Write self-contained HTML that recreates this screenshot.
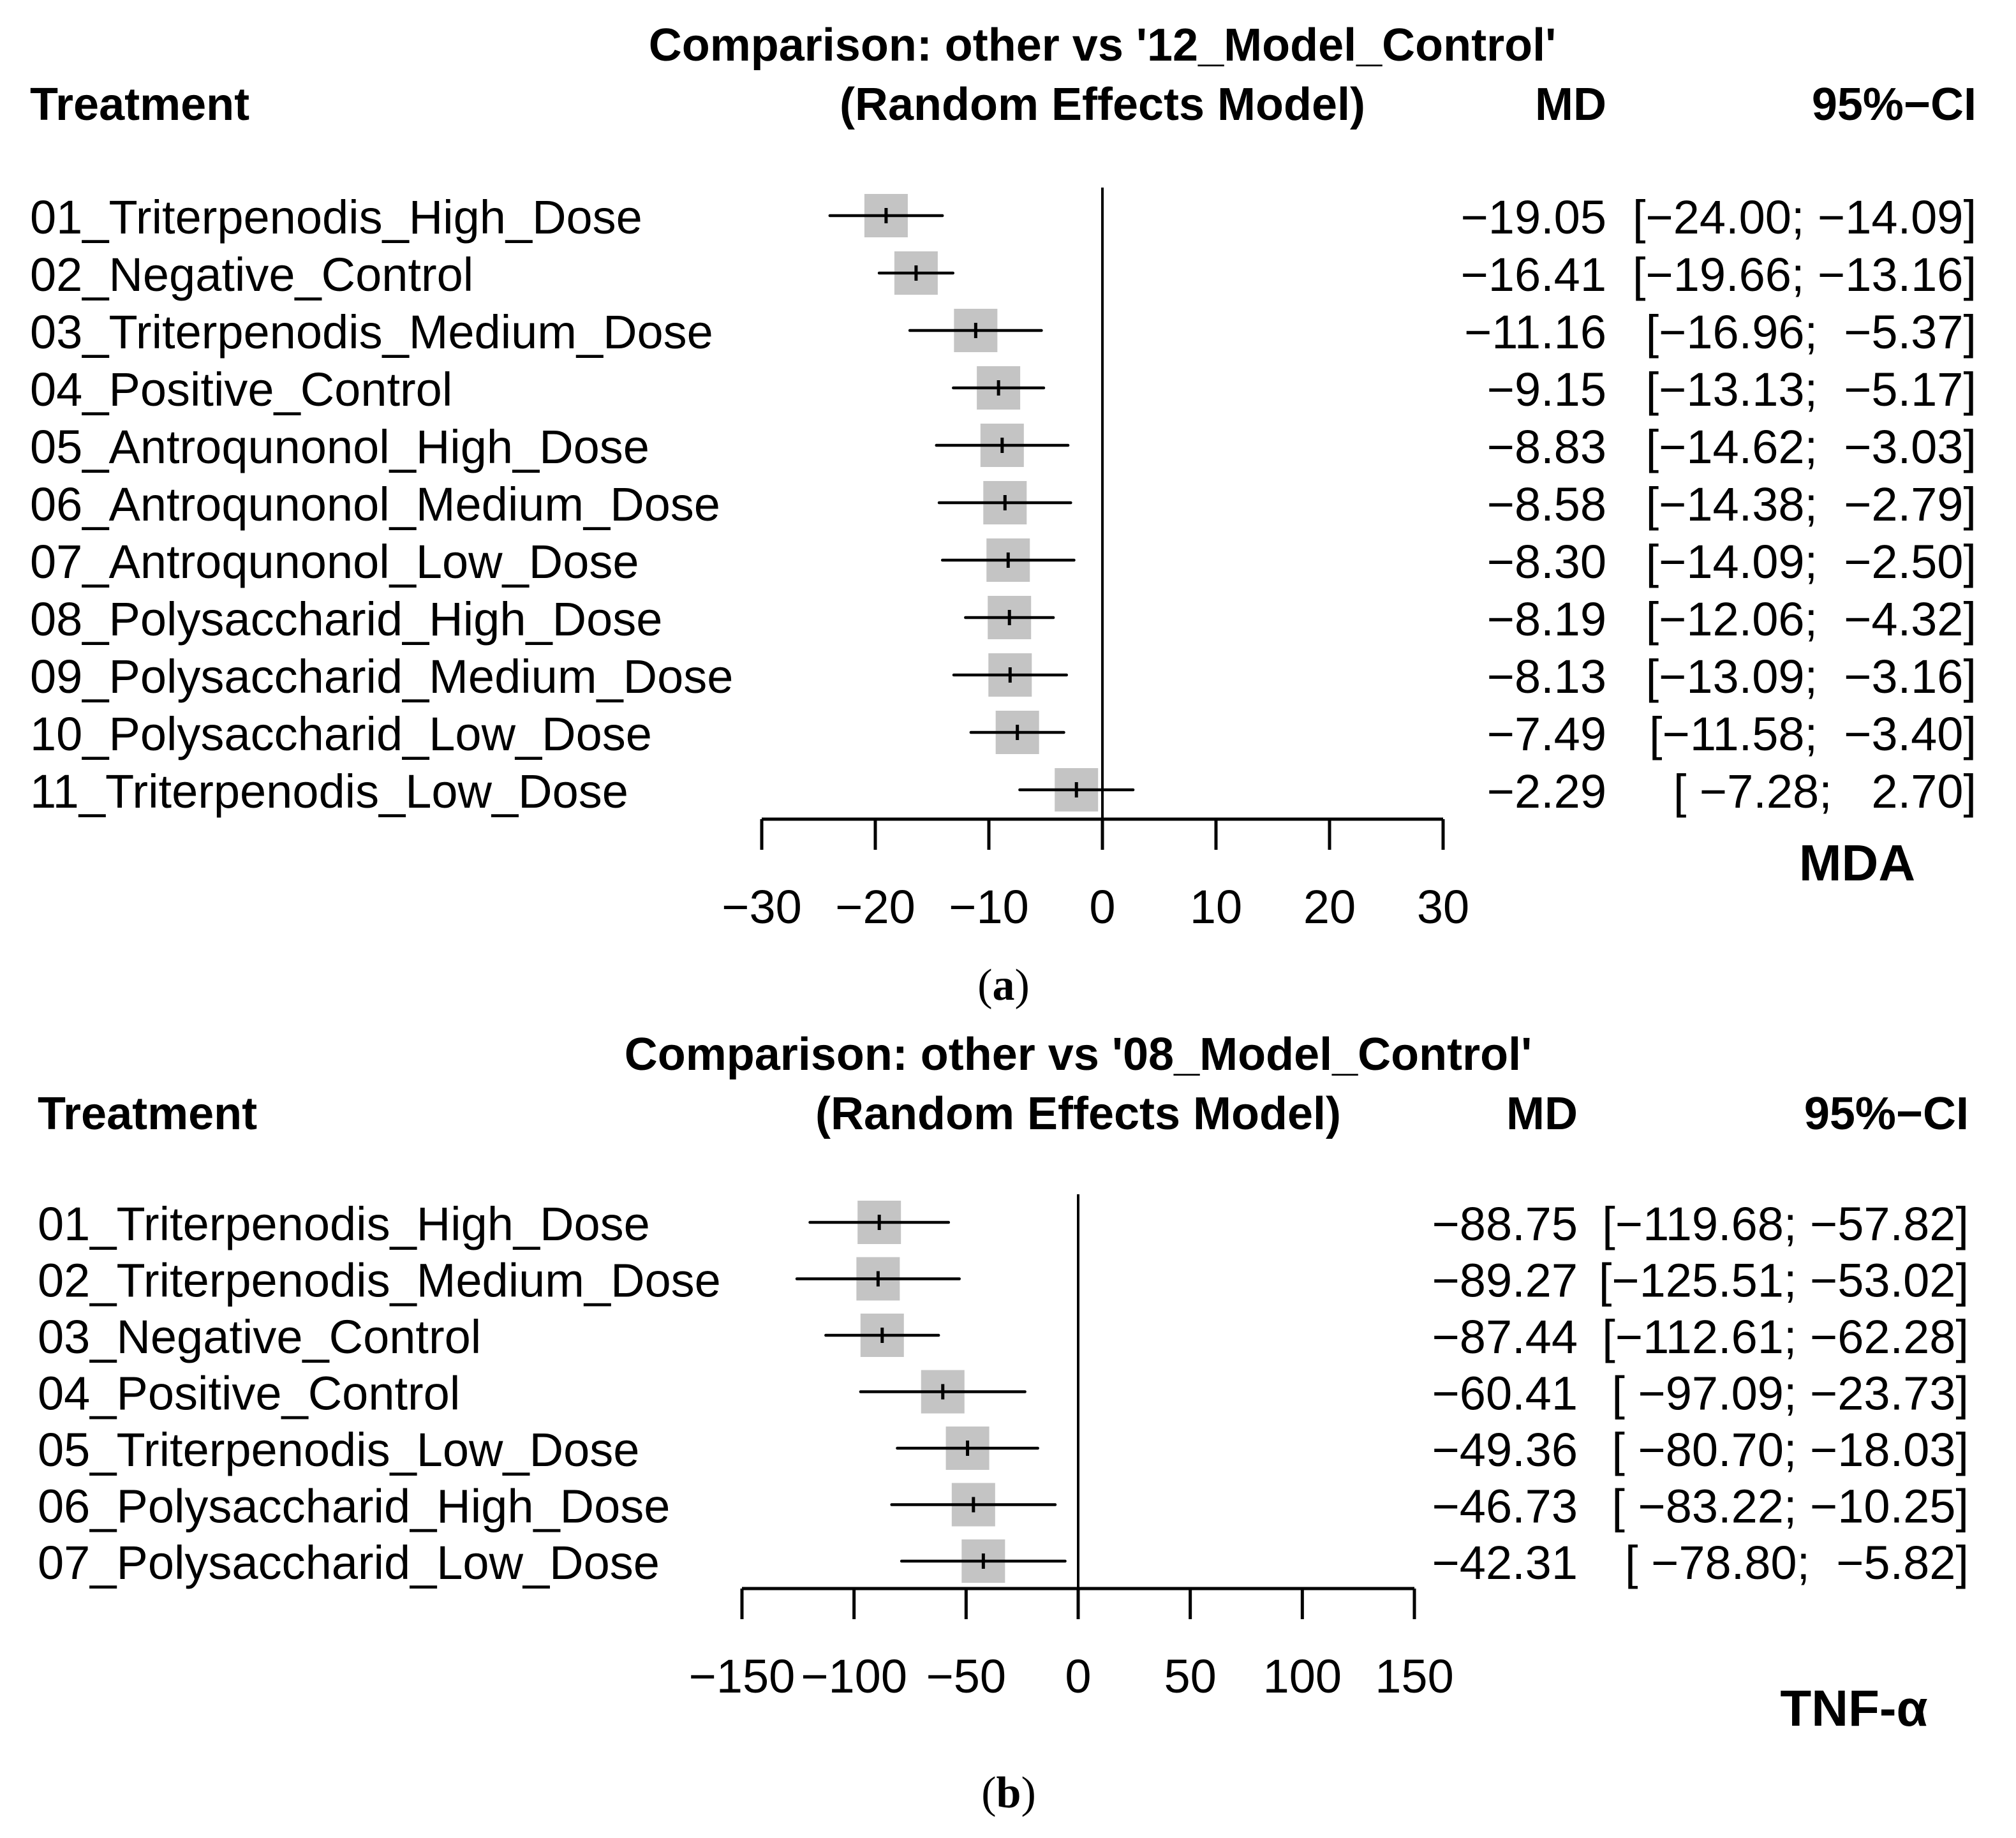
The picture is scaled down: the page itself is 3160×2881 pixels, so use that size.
<!DOCTYPE html>
<html><head><meta charset="utf-8"><style>
html,body{margin:0;padding:0;background:#fff;}
svg text{font-family:"Liberation Sans",Arial,sans-serif;white-space:pre;}
</style></head><body>
<svg id="fig" xmlns="http://www.w3.org/2000/svg" width="3160" height="2876" viewBox="0 0 3160 2876">
<rect x="0" y="0" width="3160" height="2876" fill="#fff"/>
<g id="pa"></g>
<g id="pb"></g>
<text x="1573" y="1567" text-anchor="middle" font-size="70" style="font-family:'Liberation Serif',serif">(<tspan font-weight="bold">a</tspan>)</text>
<text x="1581" y="2833" text-anchor="middle" font-size="70" style="font-family:'Liberation Serif',serif">(<tspan font-weight="bold">b</tspan>)</text>
</svg>
<script>
const aLabels = ["01_Triterpenodis_High_Dose","02_Negative_Control","03_Triterpenodis_Medium_Dose","04_Positive_Control","05_Antroqunonol_High_Dose","06_Antroqunonol_Medium_Dose","07_Antroqunonol_Low_Dose","08_Polysaccharid_High_Dose","09_Polysaccharid_Medium_Dose","10_Polysaccharid_Low_Dose","11_Triterpenodis_Low_Dose"];
const aMD = [-19.05,-16.41,-11.16,-9.15,-8.83,-8.58,-8.30,-8.19,-8.13,-7.49,-2.29];
const aLo = [-24.00,-19.66,-16.96,-13.13,-14.62,-14.38,-14.09,-12.06,-13.09,-11.58,-7.28];
const aHi = [-14.09,-13.16,-5.37,-5.17,-3.03,-2.79,-2.50,-4.32,-3.16,-3.40,2.70];
const aTicks = [-30,-20,-10,0,10,20,30];

const bLabels = ["01_Triterpenodis_High_Dose","02_Triterpenodis_Medium_Dose","03_Negative_Control","04_Positive_Control","05_Triterpenodis_Low_Dose","06_Polysaccharid_High_Dose","07_Polysaccharid_Low_Dose"];
const bMD = [-88.75,-89.27,-87.44,-60.41,-49.36,-46.73,-42.31];
const bLo = [-119.68,-125.51,-112.61,-97.09,-80.70,-83.22,-78.80];
const bHi = [-57.82,-53.02,-62.28,-23.73,-18.03,-10.25,-5.82];
const bTicks = [-150,-100,-50,0,50,100,150];

const NS = "http://www.w3.org/2000/svg";
function mk(parent, tag, attrs, txt){
  const e = document.createElementNS(NS, tag);
  for (const k in attrs) e.setAttribute(k, attrs[k]);
  if (txt !== undefined) e.textContent = txt;
  parent.appendChild(e);
  return e;
}
function fmt(v){ const s = Math.abs(v).toFixed(2); return (v < 0 ? "\u2212" : "") + s; }
function pad(s, w){ while (s.length < w) s = " " + s; return s; }

function panel(g, cfg){
  const sx = v => cfg.x0 + (v - cfg.dmin) / (cfg.dmax - cfg.dmin) * (cfg.x1 - cfg.x0);
  const sy = i => cfg.yTop + i * cfg.step;
  const n = cfg.labels.length;
  const wLo = Math.max(...cfg.lo.map(v => fmt(v).length));
  const wHi = Math.max(...cfg.hi.map(v => fmt(v).length));
  let t;
  t = mk(g, "text", {x: sx(0), y: cfg.titleY, "text-anchor": "middle", "font-size": 72, "font-weight": "bold"}, cfg.title);
  
  
  t = mk(g, "text", {x: sx(0), y: cfg.titleY + 93, "text-anchor": "middle", "font-size": 72, "font-weight": "bold"}, "(Random Effects Model)");
  
  
  t = mk(g, "text", {x: cfg.labX, y: cfg.titleY + 93, "font-size": 72, "font-weight": "bold"}, "Treatment");
  
  
  t = mk(g, "text", {x: cfg.mdX, y: cfg.titleY + 93, "text-anchor": "end", "font-size": 72, "font-weight": "bold"}, "MD");
  
  
  t = mk(g, "text", {x: cfg.ciX, y: cfg.titleY + 93, "text-anchor": "end", "font-size": 72, "font-weight": "bold"}, "95%\u2212CI");
  
  

  const axisY = sy(n - 1) + cfg.axisGap;
  let l = mk(g, "line", {x1: sx(0), x2: sx(0), y1: cfg.yTop - 44, y2: axisY, stroke: "#000", "stroke-width": 4});
  
  

  for (let i = 0; i < n; i++){
    const y = sy(i);
    t = mk(g, "text", {x: cfg.labX, y: y + 28, "font-size": 74}, cfg.labels[i]);
    
    
    const b = mk(g, "rect", {x: sx(cfg.md[i]) - 34, y: y - 34, width: 68, height: 68, fill: "#c4c4c4"});
    
    
    const c = mk(g, "line", {x1: sx(cfg.lo[i]), x2: sx(cfg.hi[i]), y1: y, y2: y, stroke: "#000", "stroke-width": 4.5, "stroke-linecap": "round"});
    
    
    const m = mk(g, "line", {x1: sx(cfg.md[i]), x2: sx(cfg.md[i]), y1: y - 12, y2: y + 12, stroke: "#000", "stroke-width": 5});
    
    
    t = mk(g, "text", {x: cfg.mdX, y: y + 28, "text-anchor": "end", "font-size": 74}, fmt(cfg.md[i]));
    
    
    t = mk(g, "text", {x: cfg.ciX, y: y + 28, "text-anchor": "end", "font-size": 74}, "[" + pad(fmt(cfg.lo[i]), wLo) + "; " + pad(fmt(cfg.hi[i]), wHi) + "]");
    
    
  }
  l = mk(g, "line", {x1: sx(cfg.dmin), x2: sx(cfg.dmax), y1: axisY, y2: axisY, stroke: "#000", "stroke-width": 5});
  
  
  for (const tv of cfg.ticks){
    l = mk(g, "line", {x1: sx(tv), x2: sx(tv), y1: axisY, y2: axisY + 48, stroke: "#000", "stroke-width": 5});
    
    
    t = mk(g, "text", {x: sx(tv), y: axisY + 163, "text-anchor": "middle", "font-size": 74}, (tv < 0 ? "\u2212" : "") + Math.abs(tv));
    
    
  }
  t = mk(g, "text", {x: cfg.outX, y: cfg.outY, "text-anchor": "middle", "font-size": 80, "font-weight": "bold"}, cfg.outcome);
  
  
}

panel(document.getElementById("pa"), {
  labels: aLabels, md: aMD, lo: aLo, hi: aHi, ticks: aTicks,
  dmin: -30, dmax: 30, x0: 1194, x1: 2262, yTop: 338, step: 90, axisGap: 46,
  titleY: 95, title: "Comparison: other vs '12_Model_Control'",
  labX: 47, mdX: 2518, ciX: 3098, outcome: "MDA", outX: 2911, outY: 1380
});
panel(document.getElementById("pb"), {
  labels: bLabels, md: bMD, lo: bLo, hi: bHi, ticks: bTicks,
  dmin: -150, dmax: 150, x0: 1163, x1: 2217, yTop: 1916, step: 88.5, axisGap: 43,
  titleY: 1677, title: "Comparison: other vs '08_Model_Control'",
  labX: 59, mdX: 2473, ciX: 3086, outcome: "TNF-\u03b1", outX: 2906, outY: 2705
});
</script>
</body></html>
